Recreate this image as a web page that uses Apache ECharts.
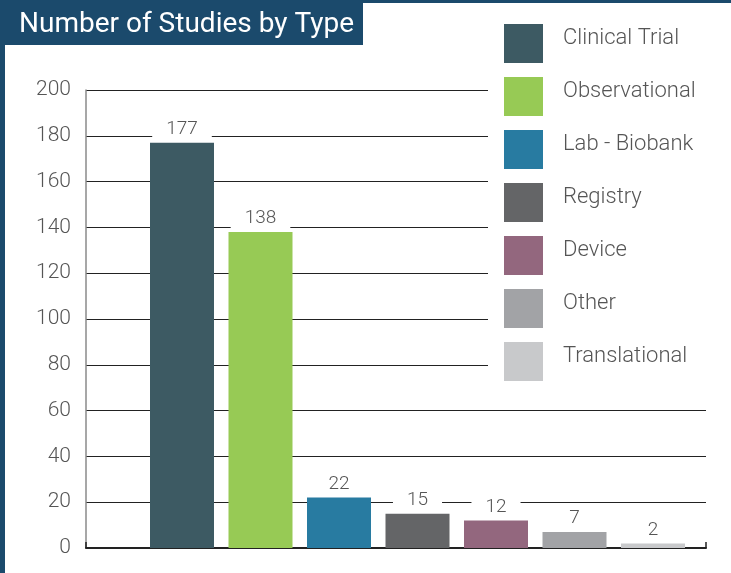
<!DOCTYPE html>
<html>
<head>
<meta charset="utf-8">
<script src="https://cdn.jsdelivr.net/npm/echarts@6/dist/echarts.min.js"></script>
<style>
  html, body { margin: 0; padding: 0; background: #fff; }
  #chart { width: 731px; height: 573px; }
</style>
</head>
<body>
<div id="chart"></div>
<script>
// study types and counts
const types = ['Clinical Trial', 'Observational', 'Lab - Biobank', 'Registry', 'Device', 'Other', 'Translational'];
const counts = [177, 138, 22, 15, 12, 7, 2];
const colors = ['#3d5a63', '#97ca55', '#287ba1', '#646567', '#93677e', '#a2a3a6', '#c8c9cb'];
const yTicks = { min: 0, max: 200, step: 20 };

const navy = '#1b4a6c';
const font = 'Roboto';

let chart = echarts.init(document.getElementById('chart'));

// one series per type so the legend lists every type
let seriesList = types.map((name, i) => ({
  name: name,
  type: 'bar',
  stack: 'all',
  xAxisIndex: 1,
  yAxisIndex: 1,
  barWidth: 64,
  itemStyle: { color: colors[i] },
  label: {
    show: true,
    position: 'top',
    distance: 4,
    color: '#555',
    fontFamily: font,
    fontWeight: 300,
    fontSize: 19,
    backgroundColor: '#fff',
    padding: [1, 14, 0, 14]
  },
  data: counts.map((v, j) => (j === i ? v : '-'))
}));

let option = {
  backgroundColor: '#fff',
  animation: false,
  title: {
    text: 'Number of Studies by Type',
    left: 14,
    top: 6,
    textStyle: { color: '#fff', fontFamily: font, fontWeight: 400, fontSize: 28 }
  },
  graphic: [
    { type: 'rect', shape: { x: 0, y: 0, width: 5, height: 573 }, style: { fill: navy } },
    { type: 'rect', shape: { x: 0, y: 0, width: 731, height: 3 }, style: { fill: navy } },
    { type: 'rect', shape: { x: 0, y: 0, width: 363, height: 45 }, style: { fill: navy } }
  ],
  legend: {
    orient: 'vertical',
    left: 488,
    top: 3,
    padding: [21, 25, 22, 16],
    backgroundColor: '#fff',
    itemWidth: 39,
    itemHeight: 39,
    itemGap: 14,
    icon: 'rect',
    formatter: '{t|{name}}',
    textStyle: {
      rich: {
        t: {
          color: '#555',
          fontFamily: font,
          fontWeight: 300,
          fontSize: 22,
          padding: [0, 0, 10, 15]
        }
      }
    },
    data: types
  },
  grid: [
    { left: 86, right: 25, top: 90, bottom: 25 },
    { left: 142.75, right: 38.75, top: 90, bottom: 25 }
  ],
  xAxis: [
    {
      type: 'value',
      gridIndex: 0,
      min: 0,
      max: 1,
      interval: 1,
      axisLine: { show: true, lineStyle: { color: '#222', width: 2 } },
      axisTick: { show: true, inside: true, length: 6, lineStyle: { color: '#222', width: 1.5 } },
      axisLabel: { show: false },
      splitLine: { show: false }
    },
    {
      type: 'category',
      gridIndex: 1,
      data: types,
      show: false
    }
  ],
  yAxis: [
    {
      type: 'value',
      gridIndex: 0,
      min: yTicks.min,
      max: yTicks.max,
      interval: yTicks.step,
      axisLine: { show: true, lineStyle: { color: '#8a8a8a', width: 1.5 } },
      axisTick: { show: false },
      axisLabel: { color: '#555', fontFamily: font, fontWeight: 300, fontSize: 21, margin: 15 },
      splitLine: { lineStyle: { color: '#222', width: 1 } }
    },
    {
      type: 'value',
      gridIndex: 1,
      min: yTicks.min,
      max: yTicks.max,
      show: false,
      splitLine: { show: false }
    }
  ],
  series: seriesList
};

chart.setOption(option);
</script>
</body>
</html>
